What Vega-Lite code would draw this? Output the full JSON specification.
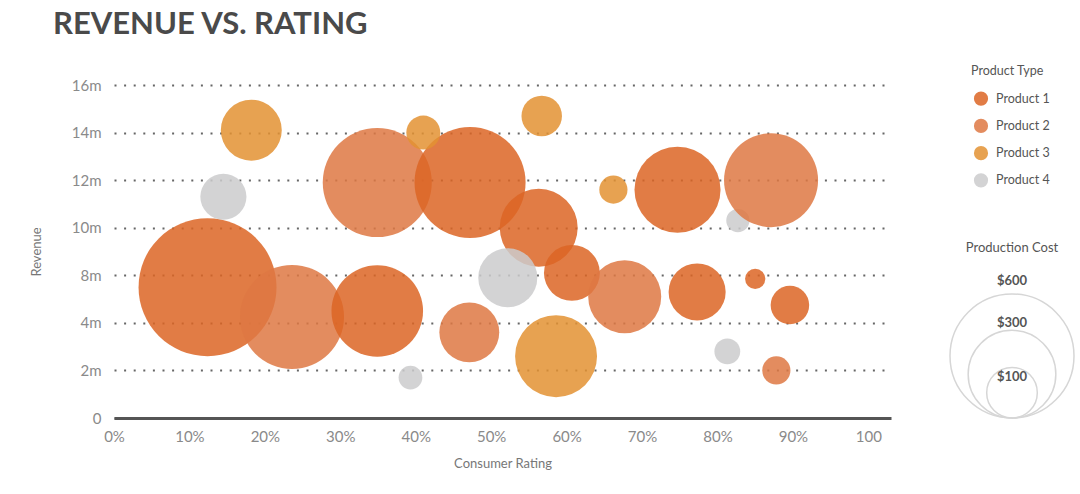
{
  "$schema": "https://vega.github.io/schema/vega-lite/v6.json",
  "padding": {"left": 30, "top": 8, "right": 5, "bottom": 5},
  "background": "white",
  "config": {"view": {"stroke": null}, "font": "Lato"},
  "title": {"text": "REVENUE VS. RATING", "anchor": "start", "frame": "group", "font": "Lato", "fontWeight": "bold", "fontSize": 31, "color": "#4a4a4a", "dx": -61, "offset": 24},
  "bounds": "flush",
  "spacing": 59,
  "hconcat": [
    {
      "width": 777,
      "height": 333,
      "data": {"values": [
        {"type": "Product 1", "rating": 12.4, "revenue": 7.0, "cost": 743},
        {"type": "Product 2", "rating": 23.6, "revenue": 4.5, "cost": 422},
        {"type": "Product 1", "rating": 34.9, "revenue": 5.0, "cost": 327},
        {"type": "Product 2", "rating": 34.9, "revenue": 11.9, "cost": 464},
        {"type": "Product 1", "rating": 47.2, "revenue": 11.9, "cost": 481},
        {"type": "Product 3", "rating": 41.0, "revenue": 14.0, "cost": 45},
        {"type": "Product 3", "rating": 18.2, "revenue": 14.1, "cost": 145},
        {"type": "Product 4", "rating": 14.5, "revenue": 11.3, "cost": 83},
        {"type": "Product 4", "rating": 39.3, "revenue": 1.7, "cost": 22},
        {"type": "Product 2", "rating": 47.1, "revenue": 3.6, "cost": 140},
        {"type": "Product 1", "rating": 56.3, "revenue": 10.0, "cost": 237},
        {"type": "Product 4", "rating": 52.2, "revenue": 7.8, "cost": 136},
        {"type": "Product 3", "rating": 56.7, "revenue": 14.7, "cost": 64},
        {"type": "Product 1", "rating": 60.7, "revenue": 8.1, "cost": 122},
        {"type": "Product 2", "rating": 67.7, "revenue": 6.2, "cost": 208},
        {"type": "Product 3", "rating": 58.6, "revenue": 2.6, "cost": 262},
        {"type": "Product 3", "rating": 66.2, "revenue": 11.6, "cost": 31},
        {"type": "Product 1", "rating": 74.7, "revenue": 11.6, "cost": 289},
        {"type": "Product 4", "rating": 82.7, "revenue": 10.3, "cost": 21},
        {"type": "Product 2", "rating": 87.1, "revenue": 12.0, "cost": 345},
        {"type": "Product 1", "rating": 77.3, "revenue": 6.6, "cost": 127},
        {"type": "Product 1", "rating": 85.0, "revenue": 7.7, "cost": 16},
        {"type": "Product 1", "rating": 89.6, "revenue": 5.5, "cost": 58},
        {"type": "Product 4", "rating": 81.3, "revenue": 2.8, "cost": 26},
        {"type": "Product 2", "rating": 87.8, "revenue": 2.0, "cost": 31}
      ]},
      "mark": {"type": "circle", "opacity": 0.85},
      "encoding": {
        "x": {
          "field": "rating", "type": "quantitative",
          "scale": {"domain": [0, 103], "nice": false},
          "axis": {
            "values": [0, 10, 20, 30, 40, 50, 60, 70, 80, 90, 100],
            "labelExpr": "datum.value == 100 ? '100' : datum.value + '%'",
            "labelFlush": false,
            "title": "Consumer Rating", "grid": false, "ticks": false,
            "domainColor": "#555", "domainWidth": 3,
            "labelColor": "#8a8a8a", "labelFontSize": 15, "labelPadding": 11,
            "titleColor": "#777", "titleFontSize": 13, "titleFontWeight": "normal", "titlePadding": 13
          }
        },
        "y": {
          "field": "revenue", "type": "quantitative",
          "scale": {"domain": [0, 4, 8, 16], "range": [333, 237.857, 190.286, 0]},
          "axis": {
            "values": [0, 2, 4, 8, 10, 12, 14, 16],
            "labelExpr": "datum.value == 0 ? '0' : datum.value + 'm'",
            "title": "Revenue", "grid": true, "gridDash": [2, 7.6], "gridColor": "#666", "gridWidth": 2,
            "domain": false, "ticks": false,
            "labelColor": "#8a8a8a", "labelFontSize": 15, "labelPadding": 13,
            "titleColor": "#777", "titleFontSize": 13, "titleFontWeight": "normal", "titlePadding": 28
          }
        },
        "color": {
          "field": "type", "type": "nominal",
          "scale": {"domain": ["Product 1", "Product 2", "Product 3", "Product 4"], "range": ["#DC6524", "#DE7843", "#E39232", "#CBCBCD"]},
          "legend": null
        },
        "size": {
          "field": "cost", "type": "quantitative",
          "scale": {"domain": [0, 600], "range": [0, 15376]},
          "legend": null
        }
      }
    },
    {
      "bounds": "flush",
      "spacing": 74,
      "vconcat": [
        {
          "width": 62,
          "height": 109,
          "title": {"text": "Product Type", "anchor": "start", "dx": 21, "fontSize": 12.5, "fontWeight": "normal", "color": "#555", "offset": 8},
          "data": {"values": [{"type": "Product 1"}, {"type": "Product 2"}, {"type": "Product 3"}, {"type": "Product 4"}]},
          "encoding": {"y": {"field": "type", "type": "nominal", "axis": null, "sort": null}},
          "layer": [
            {
              "mark": {"type": "circle", "size": 200, "opacity": 0.85},
              "encoding": {
                "color": {
                  "field": "type", "type": "nominal",
                  "scale": {"domain": ["Product 1", "Product 2", "Product 3", "Product 4"], "range": ["#DC6524", "#DE7843", "#E39232", "#CBCBCD"]},
                  "legend": null
                }
              }
            },
            {
              "mark": {"type": "text", "align": "left", "dx": 15, "fontSize": 12.5, "color": "#555"},
              "encoding": {"text": {"field": "type"}}
            }
          ]
        },
        {
          "width": 124,
          "height": 150,
          "title": {"text": "Production Cost", "fontSize": 13, "fontWeight": "normal", "color": "#555", "offset": 13},
          "data": {"values": [{"cost": 600}, {"cost": 300}, {"cost": 100}]},
          "layer": [
            {
              "mark": {"type": "point", "shape": "M0,0A1,1 0 1 1 0,-2A1,1 0 1 1 0,0Z", "filled": false, "stroke": "#d6d6d6", "strokeWidth": 1.5, "opacity": 1},
              "encoding": {
                "y": {"datum": 0, "type": "quantitative", "scale": {"domain": [0, 100, 300, 600], "range": [150, 109, 55, 13]}, "axis": null},
                "size": {"field": "cost", "type": "quantitative", "scale": {"domain": [100, 300, 600], "range": [841, 8100, 15376]}, "legend": null}
              }
            },
            {
              "mark": {"type": "text", "fontSize": 13, "fontWeight": "bold", "color": "#555"},
              "encoding": {
                "y": {"field": "cost", "type": "quantitative"},
                "text": {"field": "cost", "type": "quantitative", "format": "$.0f"}
              }
            }
          ]
        }
      ]
    }
  ]
}
